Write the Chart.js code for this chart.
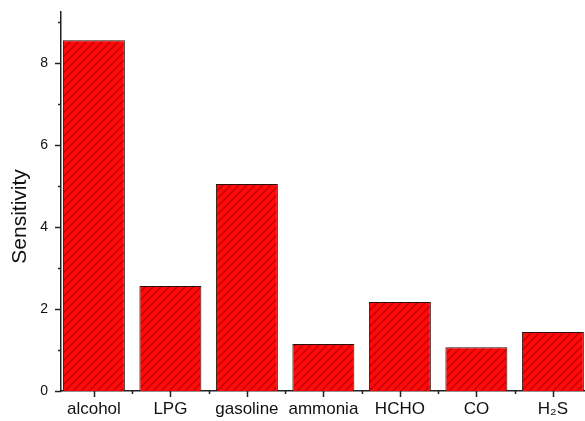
<!DOCTYPE html>
<html>
<head>
<meta charset="utf-8">
<script src="https://cdn.jsdelivr.net/npm/chart.js@4/dist/chart.umd.min.js"></script>
<style>
  html, body { margin: 0; padding: 0; background: #fff; }
  #wrap { width: 585px; height: 421px; }
</style>
</head>
<body>
<div id="wrap"><canvas id="c" width="585" height="421"></canvas></div>
<script>
// Gas sensitivity of the sensor
const gases = ['alcohol', 'LPG', 'gasoline', 'ammonia', 'HCHO', 'CO', 'H\u2082S'];
const sensitivity = [8.56, 2.56, 5.05, 1.15, 2.17, 1.07, 1.44];
const yTickValues = [0, 2, 4, 6, 8];
const yTitle = 'Sensitivity';

// red fill with dark diagonal hatching
function hatch() {
  const s = 8;
  const c = document.createElement('canvas');
  c.width = s; c.height = s;
  const g = c.getContext('2d');
  g.fillStyle = '#ff0a0a';
  g.fillRect(0, 0, s, s);
  g.strokeStyle = '#c00000';
  g.lineWidth = 1.3;
  g.beginPath();
  g.moveTo(0, s); g.lineTo(s, 0);
  g.moveTo(-1, 1); g.lineTo(1, -1);
  g.moveTo(s - 1, s + 1); g.lineTo(s + 1, s - 1);
  g.stroke();
  return g.createPattern(c, 'repeat');
}

// outward major and minor ticks on both axes, plus the rotated y title
const axisDecor = {
  id: 'axisDecor',
  afterDraw(chart) {
    const ctx = chart.ctx;
    const x = chart.scales.x, y = chart.scales.y;
    const area = chart.chartArea;
    ctx.save();
    ctx.strokeStyle = '#222';
    ctx.lineWidth = 1.5;
    ctx.beginPath();
    for (let v = 0; v <= 9; v++) {
      const py = Math.round(y.getPixelForValue(v)) + 0.5;
      const len = v % 2 === 0 ? 6 : 3;
      ctx.moveTo(area.left, py); ctx.lineTo(area.left - len, py);
    }
    for (let i = 0; i < gases.length; i++) {
      const px = Math.round(x.getPixelForValue(i)) + 0.5;
      ctx.moveTo(px, area.bottom); ctx.lineTo(px, area.bottom + 6);
      if (i + 0.5 < x.max) {
        const pm = Math.round(x.getPixelForValue(i + 0.5)) + 0.5;
        ctx.moveTo(pm, area.bottom); ctx.lineTo(pm, area.bottom + 3);
      }
    }
    ctx.stroke();

    ctx.translate(20, y.getPixelForValue(4.26));
    ctx.rotate(-Math.PI / 2);
    ctx.fillStyle = '#111';
    ctx.font = '21px "Liberation Sans", Arial, sans-serif';
    ctx.textAlign = 'center';
    ctx.textBaseline = 'middle';
    ctx.fillText(yTitle, 0, 0);
    ctx.restore();
  }
};

new Chart(document.getElementById('c'), {
  type: 'bar',
  data: {
    datasets: [{
      data: sensitivity.map((v, i) => ({ x: i, y: v })),
      backgroundColor: hatch(),
      borderColor: '#2a1010',
      borderWidth: 1,
      barPercentage: 0.81,
      categoryPercentage: 1.0
    }]
  },
  options: {
    responsive: false,
    animation: false,
    events: [],
    layout: { padding: { top: 12, right: 0, left: 0, bottom: 0 } },
    plugins: { legend: { display: false }, tooltip: { enabled: false } },
    scales: {
      x: {
        type: 'linear',
        offset: false,
        min: -0.43,
        max: 6.42,
        afterBuildTicks(scale) { scale.ticks = gases.map((_, i) => ({ value: i })); },
        afterFit(scale) { scale.height = 30; scale.paddingLeft = 0; scale.paddingRight = 0; },
        grid: { display: false, drawTicks: false },
        border: { display: true, color: '#222', width: 1.5 },
        ticks: {
          callback: (v) => gases[v],
          autoSkip: false,
          maxRotation: 0,
          padding: 8,
          color: '#111',
          font: { family: 'Liberation Sans, Arial, sans-serif', size: 17 }
        }
      },
      y: {
        min: 0,
        max: 9.25,
        afterBuildTicks(scale) { scale.ticks = yTickValues.map(v => ({ value: v })); },
        afterFit(scale) { scale.width = 61; scale.paddingTop = 0; scale.paddingBottom = 0; },
        grid: { display: false, drawTicks: false },
        border: { display: true, color: '#222', width: 1.5 },
        ticks: {
          padding: 13,
          color: '#111',
          font: { family: 'Liberation Sans, Arial, sans-serif', size: 14 }
        }
      }
    }
  },
  plugins: [axisDecor]
});
</script>
</body>
</html>
